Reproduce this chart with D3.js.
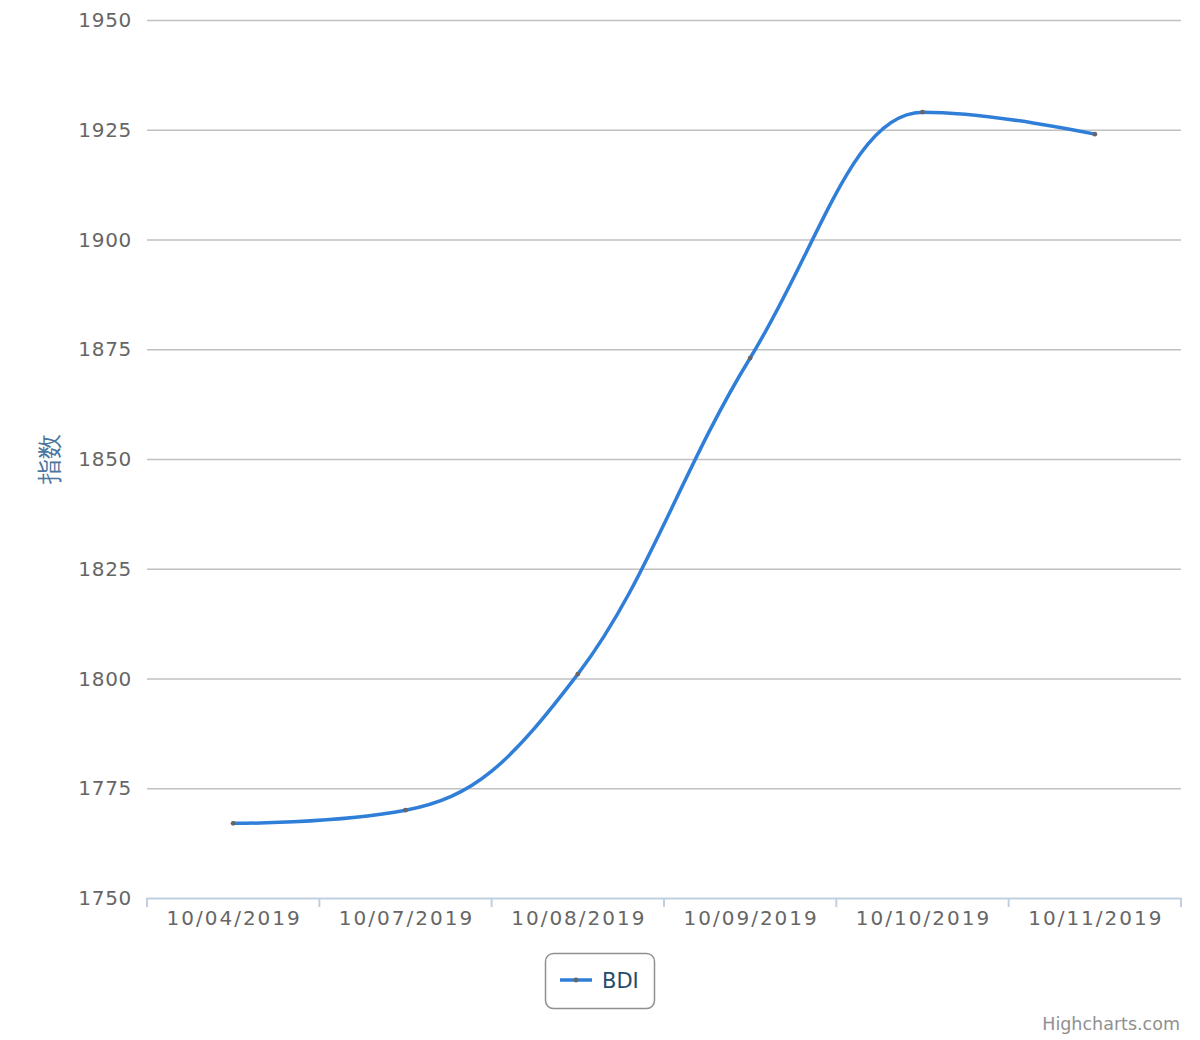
<!DOCTYPE html>
<html><head><meta charset="utf-8">
<script src="https://cdn.jsdelivr.net/npm/d3@7"></script>
<style>body{margin:0;background:#fff}svg{display:block}text{font-family:"DejaVu Sans",sans-serif}</style>
</head><body>
<svg id="c" width="1200" height="1040"></svg>
<script>
const categories = ["10/04/2019","10/07/2019","10/08/2019","10/09/2019","10/10/2019","10/11/2019"];
const bdiValues = [1767, 1770, 1801, 1873, 1929, 1924];
const yTicks = [1750, 1775, 1800, 1825, 1850, 1875, 1900, 1925, 1950];
const seriesName = "BDI";
const yTitle = "指数";

const svg = d3.select("#c");
const L = 147, R = 1181, T = 20, B = 898;
const x = d3.scaleBand().domain(categories).range([L, R]);
const y = d3.scaleLinear().domain([1750, 1950]).range([B, T]);

// gridlines
svg.append("g").selectAll("line").data(yTicks.slice(1)).join("line")
  .attr("x1", L).attr("x2", R).attr("y1", d => y(d)+0.5).attr("y2", d => y(d)+0.5)
  .attr("stroke", "#c0c0c0").attr("stroke-width", 1.3);

// y labels
svg.append("g").selectAll("text").data(yTicks).join("text")
  .attr("x", 132).attr("y", d => y(d) + 7).attr("text-anchor", "end")
  .attr("fill", "#666").attr("font-size", 20).attr("letter-spacing", 0.7).text(d => d);

// y title
svg.append("text").attr("transform", `translate(58,${(T+B)/2}) rotate(-90)`)
  .attr("text-anchor", "middle").attr("fill", "#4d759e").attr("font-size", 25)
  .attr("font-family", "'Noto Sans CJK SC',sans-serif").text(yTitle);

// x axis
const xa = svg.append("g");
xa.append("line").attr("x1", L).attr("x2", R).attr("y1", B+0.5).attr("y2", B+0.5)
  .attr("stroke", "#c0d0e0").attr("stroke-width", 2);
const tickPos = categories.map(c => x(c)).concat([x.range()[1]]);
xa.selectAll("line.t").data(tickPos).join("line").attr("class","t")
  .attr("x1", d => d).attr("x2", d => d).attr("y1", B).attr("y2", B+9)
  .attr("stroke", "#c0d0e0").attr("stroke-width", 2);
xa.selectAll("text").data(categories).join("text")
  .attr("x", d => x(d) + x.bandwidth()/2 + 1).attr("y", 925).attr("text-anchor", "middle")
  .attr("fill", "#666").attr("font-size", 20).attr("letter-spacing", 2).text(d => d);

// Highcharts-style spline
const pts = categories.map((c, i) => ({x: x(c) + x.bandwidth()/2, y: y(bdiValues[i])}));
const sm = 1.5, den = 2.5;
pts.forEach((p, i) => {
  const a = pts[i-1], b = pts[i+1];
  if (a && b) {
    let lx = (sm*p.x + a.x)/den, ly = (sm*p.y + a.y)/den;
    let rx = (sm*p.x + b.x)/den, ry = (sm*p.y + b.y)/den;
    const corr = ((ry - ly)*(rx - p.x))/(rx - lx) + p.y - ry;
    ly += corr; ry += corr;
    if (ly > a.y && ly > p.y) { ly = Math.max(a.y, p.y); ry = 2*p.y - ly; }
    else if (ly < a.y && ly < p.y) { ly = Math.min(a.y, p.y); ry = 2*p.y - ly; }
    if (ry > b.y && ry > p.y) { ry = Math.max(b.y, p.y); ly = 2*p.y - ry; }
    else if (ry < b.y && ry < p.y) { ry = Math.min(b.y, p.y); ly = 2*p.y - ry; }
    p.lx = lx; p.ly = ly; p.rx = rx; p.ry = ry;
  }
});
const path = d3.path();
pts.forEach((p, i) => {
  if (i === 0) { path.moveTo(p.x, p.y); return; }
  const a = pts[i-1];
  path.bezierCurveTo(a.rx ?? a.x, a.ry ?? a.y, p.lx ?? p.x, p.ly ?? p.y, p.x, p.y);
});
svg.append("path").attr("d", path.toString()).attr("fill", "none")
  .attr("stroke", "#2f7ed8").attr("stroke-width", 3.5).attr("stroke-linejoin", "round").attr("stroke-linecap", "round");

svg.append("g").selectAll("circle").data(pts).join("circle")
  .attr("cx", d => d.x).attr("cy", d => d.y).attr("r", 2.4).attr("fill", "#666");

// legend
const lg = svg.append("g");
lg.append("rect").attr("x", 545.5).attr("y", 953.5).attr("width", 109).attr("height", 55)
  .attr("rx", 8).attr("fill", "#fff").attr("stroke", "#909090").attr("stroke-width", 1.5);
lg.append("line").attr("x1", 560).attr("x2", 592).attr("y1", 980).attr("y2", 980)
  .attr("stroke", "#2f7ed8").attr("stroke-width", 3.5);
lg.append("circle").attr("cx", 576).attr("cy", 980).attr("r", 2.4).attr("fill", "#666");
lg.append("text").attr("x", 602).attr("y", 988).attr("fill", "#274b6d")
  .attr("font-size", 21).attr("font-family", "'Open Sans','DejaVu Sans',sans-serif").text(seriesName);

// credits
svg.append("text").attr("x", 1180).attr("y", 1030).attr("text-anchor", "end")
  .attr("fill", "#909090").attr("font-size", 17.5).text("Highcharts.com");
</script>
</body></html>
